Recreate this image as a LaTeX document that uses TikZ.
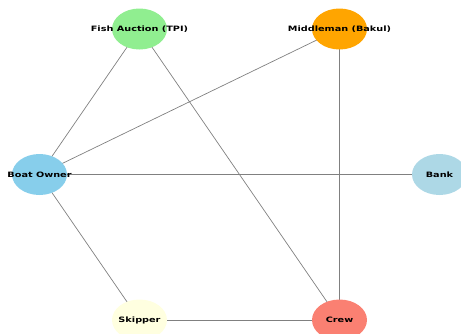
\documentclass[tikz,border=0pt]{standalone}
\usepackage{fontspec}
\setmainfont{DejaVu Sans}
\usetikzlibrary{shapes.geometric}
\definecolor{cfish}{HTML}{90EE90}
\definecolor{cmid}{HTML}{FFA500}
\definecolor{cboat}{HTML}{87CEEB}
\definecolor{cbank}{HTML}{ADD8E6}
\definecolor{cskip}{HTML}{FFFFE0}
\definecolor{ccrew}{HTML}{FA8072}
\newcommand{\lbl}[1]{\scalebox{1}[0.76]{\fontsize{9.7}{10}\selectfont\bfseries #1}}
\tikzset{
  actor/.style={ellipse, draw=none, minimum width=55pt, minimum height=41pt, inner sep=0pt},
  tie/.style={draw=gray, line width=0.7pt}
}
\begin{document}
\begin{tikzpicture}[x=1pt,y=-1pt]
\useasboundingbox (0,0) rectangle (461,333);
\coordinate (pf) at (139.5,29);
\coordinate (pm) at (339.5,29);
\coordinate (pb) at (39.5,174.5);
\coordinate (pk) at (439.5,174.5);
\coordinate (ps) at (139.5,320);
\coordinate (pc) at (339.5,320);
\draw[tie] (pf) -- (pb);
\draw[tie] (pf) -- (pc);
\draw[tie] (pm) -- (pb);
\draw[tie] (pm) -- (pc);
\draw[tie] (pb) -- (pk);
\draw[tie] (pb) -- (ps);
\draw[tie] (ps) -- (pc);
\node[actor, fill=cfish] (f) at (pf) {};
\node[actor, fill=cmid] (m) at (pm) {};
\node[actor, fill=cboat] (b) at (pb) {};
\node[actor, fill=cbank] (k) at (pk) {};
\node[actor, fill=cskip] (s) at (ps) {};
\node[actor, fill=ccrew] (c) at (pc) {};
\node (tf) at (f.center) {\lbl{Fish Auction (TPI)}};
\node (tm) at (m.center) {\lbl{Middleman (Bakul)}};
\node (tb) at (b.center) {\lbl{Boat Owner}};
\node (tk) at (k.center) {\lbl{Bank}};
\node (ts) at (s.center) {\lbl{Skipper}};
\node (tc) at (c.center) {\lbl{Crew}};
\end{tikzpicture}
\end{document}
